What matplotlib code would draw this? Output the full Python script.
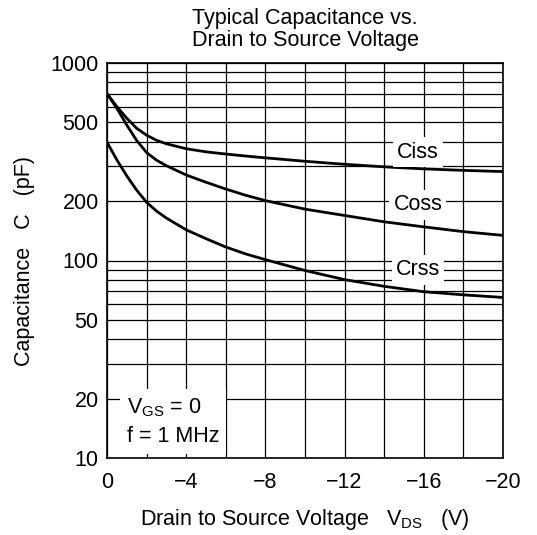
import numpy as np
import matplotlib
matplotlib.use("Agg")
import matplotlib.pyplot as plt
from matplotlib.ticker import FixedLocator, FixedFormatter, NullFormatter

plt.rcParams['font.family'] = ['Liberation Sans', 'DejaVu Sans']
plt.rcParams['mathtext.fontset'] = 'custom'
plt.rcParams['mathtext.rm'] = 'Liberation Sans'
plt.rcParams['mathtext.it'] = 'Liberation Sans'

# valeurs
v_ciss = [0, -0.5, -1, -1.5, -2, -2.5, -3, -4, -5, -6, -7, -8, -10, -12, -14, -16, -18, -20]
ciss = [700, 601, 525, 467, 431, 406, 390, 368, 355, 346, 338, 331, 318, 307, 298, 291, 286, 282]

v_coss = [0, -0.5, -1, -1.5, -2, -2.5, -3, -4, -5, -6, -7, -8, -10, -12, -14, -16, -18, -20]
coss = [700, 589, 485, 405, 352, 322, 302, 271, 249, 230, 214, 201, 182, 169, 157, 148, 140, 134]

v_crss = [0, -0.5, -1, -1.5, -2, -2.5, -3, -4, -5, -6, -7, -8, -10, -12, -14, -16, -18, -20]
crss = [397, 323, 268, 227, 197, 178, 164, 143, 129, 117, 108, 101, 89, 80, 74, 69.5, 67, 65]

y_ticks = [10, 20, 50, 100, 200, 500, 1000]
x_ticks = [0, -4, -8, -12, -16, -20]
x_labels = ['0', '\u22124', '\u22128', '\u221212', '\u221216', '\u221220']

fs = 15.5
fig = plt.figure(figsize=(5.37, 5.35), dpi=100)
ax = fig.add_axes([107/537, 1-458/535, 396/537, 395/535])

for v, c in [(v_ciss, ciss), (v_coss, coss), (v_crss, crss)]:
    ax.plot(v, c, color='black', lw=2.0, zorder=4, solid_joinstyle='round')

ax.set_yscale('log')
ax.set_ylim(10, 1000)
ax.set_xlim(0, -20)

ax.xaxis.set_major_locator(FixedLocator(x_ticks))
ax.xaxis.set_major_formatter(FixedFormatter(x_labels))
ax.xaxis.set_minor_locator(FixedLocator(np.arange(0, -21, -2)))
ax.yaxis.set_major_locator(FixedLocator(y_ticks))
ax.yaxis.set_major_formatter(FixedFormatter([str(t) for t in y_ticks]))
ax.yaxis.set_minor_locator(FixedLocator([k * 10**e for e in (1, 2) for k in range(1, 10)]))
ax.yaxis.set_minor_formatter(NullFormatter())

ax.grid(True, which='both', color='black', lw=0.9)
ax.tick_params(which='both', length=0, labelsize=fs)
ax.tick_params(axis='x', pad=10)
ax.tick_params(axis='y', pad=6)
for s in ax.spines.values():
    s.set_linewidth(1.2)

for label, y in [('Ciss', 354), ('Coss', 191), ('Crss', 89.6)]:
    ax.text(-15.7, y, label, ha='center', va='center', fontsize=fs, zorder=5,
            bbox=dict(facecolor='white', edgecolor='none', pad=3))

ax.text(-1.0, 15.2, r'V$_{\mathrm{GS}}$ = 0' + '\nf = 1 MHz', ha='left', va='center',
        fontsize=fs, linespacing=1.45, zorder=5,
        bbox=dict(facecolor='white', edgecolor='none', pad=5))

ax.set_title('Typical Capacitance vs.\nDrain to Source Voltage', fontsize=fs, pad=12,
             linespacing=1.1)
ax.set_ylabel('Capacitance   C   (pF)', fontsize=fs, labelpad=11)
ax.set_xlabel(r'Drain to Source Voltage   V$_{\mathrm{DS}}$   (V)', fontsize=fs, labelpad=10)

fig.savefig('out.png', dpi=100)
